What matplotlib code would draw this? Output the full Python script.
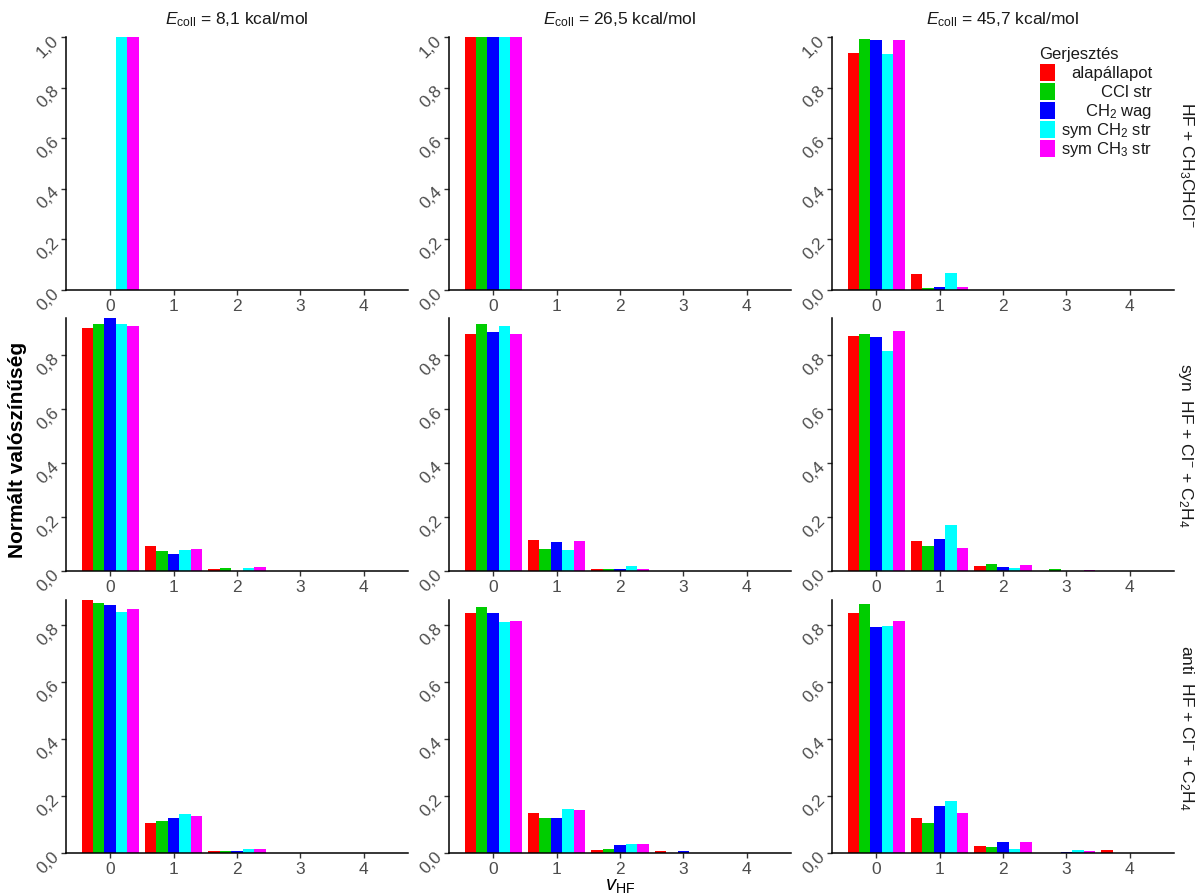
import matplotlib
matplotlib.use("Agg")
import matplotlib.pyplot as plt
from matplotlib.patches import Rectangle
from matplotlib.ticker import FuncFormatter
import numpy as np

plt.rcParams['font.family'] = ['Liberation Sans', 'DejaVu Sans']
plt.rcParams['mathtext.fontset'] = 'custom'
plt.rcParams['mathtext.rm'] = 'Liberation Sans'
plt.rcParams['mathtext.it'] = 'Liberation Sans:italic'
plt.rcParams['mathtext.bf'] = 'Liberation Sans:bold'

# gerjesztett modusok es szinek
modes = ["alapállapot", "CCl str", "CH$_2$ wag", "sym CH$_2$ str", "sym CH$_3$ str"]
colors = ["#FF0000", "#00CD00", "#0000FF", "#00FFFF", "#FF00FF"]
v_hf = [0, 1, 2, 3, 4]

col_titles = ["$E_{\\mathrm{coll}}$ = 8,1 kcal/mol",
              "$E_{\\mathrm{coll}}$ = 26,5 kcal/mol",
              "$E_{\\mathrm{coll}}$ = 45,7 kcal/mol"]
row_titles = ["HF + CH$_3$CHCl$^{-}$",
              "syn  HF + Cl$^{-}$ + C$_2$H$_4$",
              "anti  HF + Cl$^{-}$ + C$_2$H$_4$"]

# HF + CH3CHCl- csatorna, soronkent egy modus, oszloponkent v = 0..4
ch3chcl_81 = [[0, 0, 0, 0, 0],
              [0, 0, 0, 0, 0],
              [0, 0, 0, 0, 0],
              [1.0, 0, 0, 0, 0],
              [1.0, 0, 0, 0, 0]]
ch3chcl_265 = [[1.0, 0, 0, 0, 0],
               [1.0, 0, 0, 0, 0],
               [1.0, 0, 0, 0, 0],
               [1.0, 0, 0, 0, 0],
               [1.0, 0, 0, 0, 0]]
ch3chcl_457 = [[0.936, 0.064, 0, 0, 0],
               [0.993, 0.007, 0, 0, 0],
               [0.989, 0.011, 0, 0, 0],
               [0.931, 0.069, 0, 0, 0],
               [0.989, 0.011, 0, 0, 0]]

# syn HF + Cl- + C2H4
syn_81 = [[0.900, 0.091, 0.006, 0, 0],
          [0.915, 0.073, 0.010, 0, 0],
          [0.937, 0.062, 0.000, 0, 0],
          [0.915, 0.077, 0.010, 0, 0],
          [0.907, 0.080, 0.013, 0, 0]]
syn_265 = [[0.878, 0.114, 0.006, 0, 0],
           [0.915, 0.080, 0.006, 0, 0],
           [0.885, 0.106, 0.006, 0, 0],
           [0.907, 0.077, 0.018, 0, 0],
           [0.878, 0.110, 0.006, 0, 0]]
syn_457 = [[0.870, 0.110, 0.019, 0.001, 0],
           [0.878, 0.091, 0.026, 0.006, 0],
           [0.867, 0.119, 0.014, 0.000, 0],
           [0.815, 0.170, 0.010, 0.000, 0],
           [0.889, 0.084, 0.022, 0.002, 0]]

# anti HF + Cl- + C2H4
anti_81 = [[0.888, 0.105, 0.006, 0.000, 0],
           [0.878, 0.112, 0.006, 0.001, 0],
           [0.870, 0.122, 0.006, 0.001, 0],
           [0.846, 0.136, 0.013, 0.001, 0],
           [0.856, 0.129, 0.013, 0.001, 0]]
anti_265 = [[0.842, 0.140, 0.011, 0.006, 0.000],
            [0.863, 0.122, 0.013, 0.001, 0.000],
            [0.842, 0.122, 0.027, 0.006, 0.000],
            [0.811, 0.155, 0.031, 0.001, 0.000],
            [0.814, 0.151, 0.031, 0.001, 0.001]]
anti_457 = [[0.842, 0.122, 0.024, 0.001, 0.010],
            [0.874, 0.105, 0.020, 0.001, 0.000],
            [0.793, 0.165, 0.038, 0.002, 0.000],
            [0.796, 0.183, 0.013, 0.010, 0.000],
            [0.814, 0.140, 0.038, 0.006, 0.000]]

panels = [[ch3chcl_81, ch3chcl_265, ch3chcl_457],
          [syn_81, syn_265, syn_457],
          [anti_81, anti_265, anti_457]]

W, H = 1197, 895
fig = plt.figure(figsize=(W / 100, H / 100), dpi=100)

col_left = [66, 449, 832]
col_w = 342
row_top = [38, 319, 601]
row_h = 253

comma = FuncFormatter(lambda v, p: ("%.1f" % v).replace(".", ","))
bw = 0.9 / len(modes)
offsets = (np.arange(len(modes)) - (len(modes) - 1) / 2) * bw

for r in range(3):
    # sor szerinti kozos y skala
    ymax = max(max(max(s) for s in p) for p in panels[r])
    for c in range(3):
        ax = fig.add_axes([col_left[c] / W, 1 - (row_top[r] + row_h) / H,
                           col_w / W, row_h / H])
        data = panels[r][c]
        for i, series in enumerate(data):
            ax.bar(np.array(v_hf) + offsets[i], series, width=bw,
                   color=colors[i], linewidth=0)
        ax.set_xlim(-0.695, 4.695)
        ax.set_ylim(0, ymax)
        ax.set_xticks(v_hf)
        ax.set_yticks(np.arange(0, ymax + 1e-9, 0.2))
        ax.yaxis.set_major_formatter(comma)
        for s in ["top", "right"]:
            ax.spines[s].set_visible(False)
        for s in ["left", "bottom"]:
            ax.spines[s].set_linewidth(1.1)
            ax.spines[s].set_color("black")
        ax.tick_params(axis="both", length=3.5, width=1.0, color="#333333",
                       labelcolor="#4D4D4D", labelsize=12.5)
        ax.tick_params(axis="x", pad=2)
        for lab in ax.get_yticklabels():
            lab.set_rotation(45)
            lab.set_ha("right")
            lab.set_va("center")
            lab.set_rotation_mode("anchor")
        if r == 0:
            ax.set_title(col_titles[c], fontsize=12.5, color="#1A1A1A", pad=10)
        if c == 2:
            ax.text(1.035, 0.5, row_titles[r], transform=ax.transAxes,
                    rotation=270, ha="center", va="center",
                    fontsize=12.5, color="#1A1A1A")

fig.text(18 / W, 1 - 450 / H, "Normált valószínűség", rotation=90,
         ha="center", va="center", fontsize=15, fontweight="bold")
fig.text(620 / W, 1 - 887 / H, "$v_{\\mathrm{HF}}$", ha="center",
         va="center", fontsize=14.5)

# jelmagyarazat
fig.text(1039 / W, 1 - 55 / H, "Gerjesztés", ha="left", va="center",
         fontsize=12, color="#1A1A1A")
for i, (m, col) in enumerate(zip(modes, colors)):
    top = 65 + i * 19
    fig.patches.append(Rectangle((1040 / W, 1 - (top + 17) / H), 15 / W, 17 / H,
                                 transform=fig.transFigure, facecolor=col,
                                 edgecolor="none"))
    fig.text(1152 / W, 1 - (top + 8.5) / H, m, ha="right", va="center",
             fontsize=12, color="#1A1A1A")

fig.savefig("out.png", dpi=100)
